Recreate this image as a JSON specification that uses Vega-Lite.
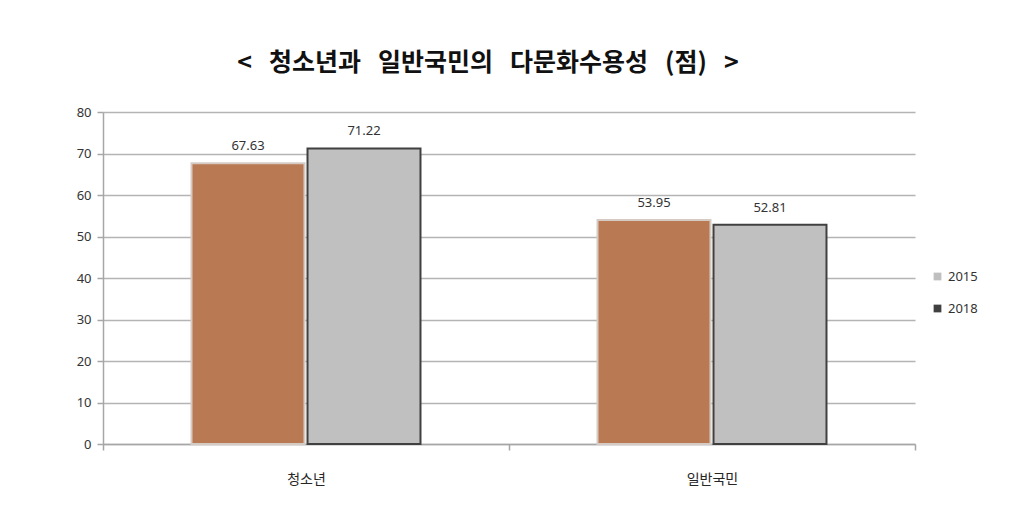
{
  "$schema": "https://vega.github.io/schema/vega-lite/v6.json",
  "width": 812,
  "height": 332,
  "autosize": "none",
  "padding": {"left": 103, "top": 112, "right": 109, "bottom": 86},
  "background": "#ffffff",
  "title": {
    "text": "<\u00a0\u00a0\u00a0청소년과\u00a0\u00a0\u00a0일반국민의\u00a0\u00a0\u00a0다문화수용성\u00a0\u00a0\u00a0(점)\u00a0\u00a0\u00a0>",
    "font": "Noto Sans CJK KR",
    "fontSize": 25,
    "fontWeight": "bold",
    "color": "#111111",
    "anchor": "middle",
    "dx": -21,
    "offset": 30
  },
  "data": {
    "values": [
      {"group": "청소년", "year": "2015", "score": 67.63},
      {"group": "청소년", "year": "2018", "score": 71.22},
      {"group": "일반국민", "year": "2015", "score": 53.95},
      {"group": "일반국민", "year": "2018", "score": 52.81}
    ]
  },
  "encoding": {
    "x": {
      "field": "group",
      "type": "nominal",
      "sort": ["청소년", "일반국민"],
      "scale": {"paddingInner": 0, "paddingOuter": 0},
      "axis": {
        "title": null,
        "labelAngle": 0,
        "labelFont": "Noto Sans CJK KR",
        "labelFontSize": 14,
        "labelColor": "#262626",
        "labelPadding": 22,
        "tickBand": "extent",
        "tickSize": 6,
        "tickColor": "#a6a6a6",
        "tickWidth": 1.5,
        "domainColor": "#a6a6a6",
        "domainWidth": 1.5,
        "grid": false
      }
    },
    "xOffset": {
      "field": "year",
      "type": "nominal",
      "scale": {"paddingInner": 0.026, "paddingOuter": 0.763}
    },
    "y": {
      "field": "score",
      "type": "quantitative",
      "scale": {"domain": [0, 80]},
      "axis": {
        "title": null,
        "values": [0, 10, 20, 30, 40, 50, 60, 70, 80],
        "labelFont": "Noto Sans",
        "labelFontSize": 13,
        "labelColor": "#333333",
        "labelPadding": 6,
        "tickSize": 6,
        "tickColor": "#a6a6a6",
        "tickWidth": 1.5,
        "domainColor": "#a6a6a6",
        "domainWidth": 1.5,
        "gridColor": "#b4b4b4",
        "gridWidth": 1.5
      }
    }
  },
  "layer": [
    {
      "mark": {"type": "bar", "strokeWidth": 2},
      "encoding": {
        "fill": {
          "field": "year",
          "type": "nominal",
          "scale": {"domain": ["2015", "2018"], "range": ["#b97953", "#c0c0c0"]},
          "legend": null
        },
        "stroke": {
          "field": "year",
          "type": "nominal",
          "scale": {"domain": ["2015", "2018"], "range": ["#d6cbc4", "#404040"]},
          "legend": null
        }
      }
    },
    {
      "mark": {"type": "bar", "strokeWidth": 0},
      "encoding": {
        "y": {"datum": 0},
        "fill": {
          "field": "year",
          "type": "nominal",
          "scale": {"domain": ["2015", "2018"], "range": ["#bfbfbf", "#404040"]},
          "legend": {
            "title": null,
            "orient": "none",
            "legendX": 828,
            "legendY": 158,
            "symbolType": "square",
            "symbolSize": 60,
            "symbolStrokeWidth": 0,
            "rowPadding": 18,
            "labelFont": "Noto Sans",
            "labelFontSize": 13,
            "labelColor": "#333333"
          }
        }
      }
    },
    {
      "mark": {
        "type": "text",
        "baseline": "bottom",
        "dy": -10,
        "font": "Noto Sans",
        "fontSize": 13,
        "color": "#333333"
      },
      "encoding": {
        "text": {"field": "score", "type": "quantitative", "format": ".2f"}
      }
    }
  ],
  "resolve": {"scale": {"fill": "independent"}, "legend": {"fill": "independent"}},
  "config": {"view": {"stroke": null}}
}
